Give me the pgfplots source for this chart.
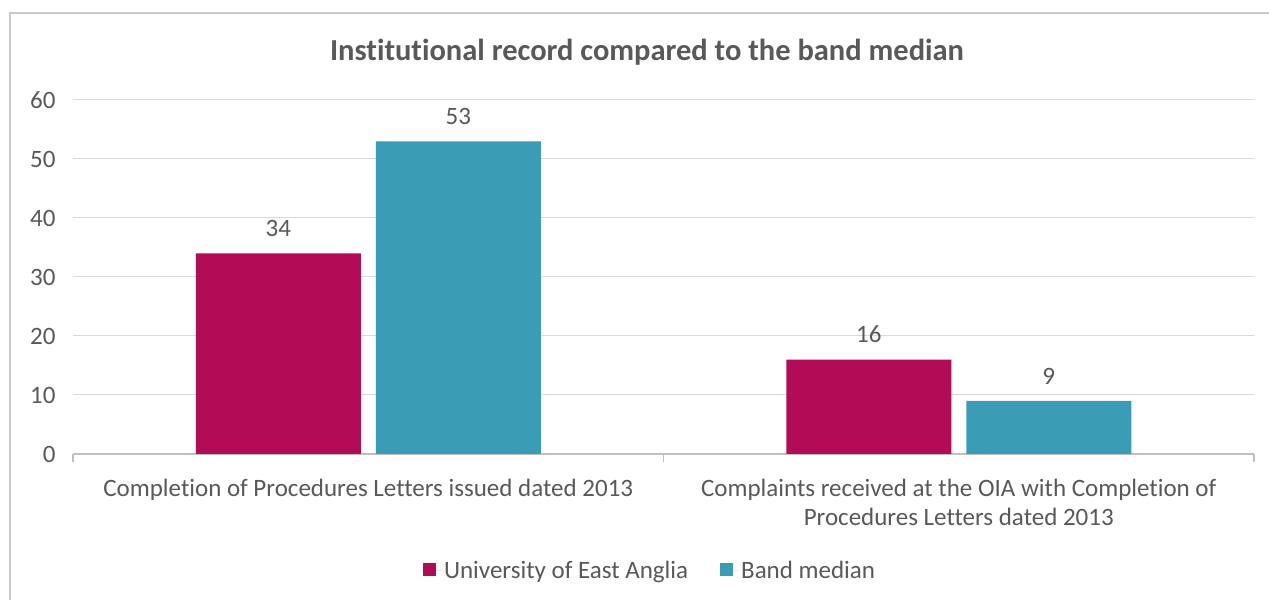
\documentclass[border=0pt]{standalone}
\usepackage{pgfplots}
\pgfplotsset{compat=1.18}
\usepackage{fontspec}
\setmainfont{Carlito}[Ligatures=NoCommon]
\definecolor{crim}{HTML}{B10C55}
\definecolor{teal2}{HTML}{3A9CB5}
\definecolor{txt}{HTML}{595959}
\definecolor{gridc}{HTML}{D9D9D9}
\definecolor{axc}{HTML}{BFBFBF}
\begin{document}
\begin{tikzpicture}[x=1bp,y=1bp]
\path[use as bounding box] (0,0) rectangle (1269,600);
\fill[white] (0,0) rectangle (1269,600);
\draw[color=axc!85!white, line width=1.6bp] (10,-10) -- (10,587) -- (1290,587);
\node[anchor=base, font=\fontsize{30.5bp}{36bp}\selectfont\bfseries, text=txt] at (647,539) {Institutional record compared to the band median};
\begin{axis}[
  at={(73bp,146bp)}, anchor=south west,
  scale only axis, width=1181bp, height=354bp,
  ybar=15bp, bar width=165bp,
  xmin=-0.5, xmax=1.5, ymin=0, ymax=60,
  ytick={0,10,...,60},
  xtick={0,1},
  xticklabels={{Completion of Procedures Letters issued dated 2013},{Complaints received at the OIA with Completion of\\Procedures Letters dated 2013}},
  extra x ticks={-0.5,0.5,1.5}, extra x tick labels={},
  extra x tick style={major tick length=8bp, tick style={draw=axc, line width=1.2bp}},
  major tick length=0pt,
  tick align=outside, xtick pos=bottom, ytick pos=left,
  axis x line*=bottom, axis y line*=left,
  y axis line style={draw=none},
  x axis line style={draw=axc, line width=1.2bp},
  ymajorgrids, grid style={draw=gridc, line width=1bp},
  ytick style={draw=none},
  /pgf/number format/assume math mode=true,
  tick label style={font=\fontsize{25bp}{29bp}\selectfont, text=txt},
  yticklabel style={anchor=east, xshift=-14bp},
  xticklabel style={align=center, yshift=-22bp},
  nodes near coords,
  nodes near coords style={font=\fontsize{25bp}{29bp}\selectfont, text=txt, anchor=south, yshift=13bp},
  legend columns=2,
  legend style={at={(0.4886,-0.3305)}, anchor=center, draw=none, fill=none,
    font=\fontsize{25bp}{29bp}\selectfont, text=txt,
    /tikz/every even column/.append style={column sep=30bp}},
  legend image code/.code={\fill[#1] (0bp,-5bp) rectangle (13bp,8bp); \path (0bp,0bp) -- (19bp,0bp);},
]
\addplot[fill=crim, draw=none] coordinates {(0,34) (1,16)};
\addplot[fill=teal2, draw=none] coordinates {(0,53) (1,9)};
\legend{University of East Anglia, Band median}
\end{axis}
\end{tikzpicture}
\end{document}
